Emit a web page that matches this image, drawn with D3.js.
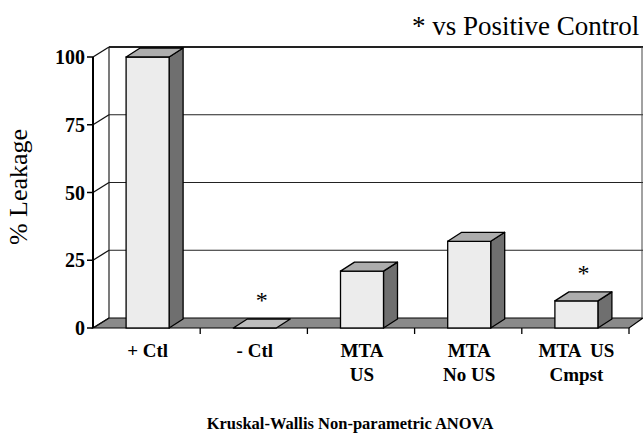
<!DOCTYPE html>
<html><head><meta charset="utf-8">
<script src="https://cdn.jsdelivr.net/npm/d3@7/dist/d3.min.js"></script>
<style>
html,body{margin:0;padding:0;background:#fff;}
svg{display:block;}
text{font-family:"Liberation Serif","Times New Roman",serif;fill:#000;}
</style></head>
<body>
<svg id="chart" width="643" height="435"></svg>
<script>
const categories = ["+ Ctl", "- Ctl", "MTA|US", "MTA|No US", "MTA  US|Cmpst"];
const values = [100, 0, 21, 32, 10];
const significant = [false, true, false, false, true];
const yTicks = [0, 25, 50, 75, 100];

const svg = d3.select("#chart");
const x = d3.scaleBand().domain(categories).range([93, 629]).padding(0);
const y = d3.scaleLinear().domain([0, 100]).range([328, 57]);

const wdx = 16, wdy = -10;   // wall depth offset
const bdx = 14, bdy = -9;    // bar depth offset
const barW = 43;

// floor
const fy0 = y(0);
svg.append("polygon")
  .attr("points", [[x.range()[0], fy0], [x.range()[0] + wdx, fy0 + wdy], [643, fy0 + wdy], [x.range()[1], fy0]].map(p => p.join(",")).join(" "))
  .attr("fill", "#8a8a8a").attr("stroke", "#000").attr("stroke-width", 1.2);

// back wall gridlines
const backX0 = x.range()[0] + wdx;
svg.append("g").selectAll("line").data(yTicks.filter(d => d > 0)).join("line")
  .attr("x1", backX0).attr("x2", 643)
  .attr("y1", d => y(d) + wdy).attr("y2", d => y(d) + wdy)
  .attr("stroke", "#222").attr("stroke-width", d => d === 100 ? 1.8 : 1.2);
svg.append("line").attr("x1", backX0).attr("x2", backX0)
  .attr("y1", y(100) + wdy).attr("y2", y(0) + wdy).attr("stroke", "#222").attr("stroke-width", 1.2);
svg.append("line").attr("x1", 642).attr("x2", 642)
  .attr("y1", y(100) + wdy).attr("y2", y(0) + wdy).attr("stroke", "#444").attr("stroke-width", 1);
svg.append("g").selectAll("line").data(yTicks).join("line")
  .attr("x1", x.range()[0]).attr("x2", backX0)
  .attr("y1", d => y(d)).attr("y2", d => y(d) + wdy)
  .attr("stroke", "#111").attr("stroke-width", 1.3);

// bars
const bars = svg.append("g");
categories.forEach((c, i) => {
  const v = values[i];
  const x0 = x(c) + x.bandwidth() / 2 - barW / 2 + 1;
  const yt = y(v), yb = y(0);
  const pts = a => a.map(p => p.join(",")).join(" ");
  if (v > 0) {
    bars.append("polygon").attr("points", pts([[x0 + barW, yt], [x0 + barW + bdx, yt + bdy], [x0 + barW + bdx, yb + bdy], [x0 + barW, yb]]))
      .attr("fill", "#6f6f6f").attr("stroke", "#000").attr("stroke-width", 1.3).attr("stroke-linejoin", "round");
    bars.append("rect").attr("x", x0).attr("y", yt).attr("width", barW).attr("height", yb - yt)
      .attr("fill", "#ececec").attr("stroke", "#000").attr("stroke-width", 1.3);
  }
  bars.append("polygon").attr("points", pts([[x0, yt], [x0 + bdx, yt + bdy], [x0 + barW + bdx, yt + bdy], [x0 + barW, yt]]))
    .attr("fill", v > 0 ? "#adadad" : "#bdbdbd").attr("stroke", "#000").attr("stroke-width", 1.3).attr("stroke-linejoin", "round");
  if (significant[i]) {
    svg.append("text").attr("x", x0 + barW / 2 + 7).attr("y", yt - 20)
      .attr("text-anchor", "middle").attr("font-size", 24).text("*");
  }
});

// front y axis
svg.append("line").attr("x1", 93).attr("x2", 93).attr("y1", y(100)).attr("y2", y(0))
  .attr("stroke", "#000").attr("stroke-width", 2);
const yg = svg.append("g").selectAll("g").data(yTicks).join("g");
yg.append("line").attr("x1", 87).attr("x2", 93).attr("y1", d => y(d)).attr("y2", d => y(d))
  .attr("stroke", "#000").attr("stroke-width", 1.5);
yg.append("text").attr("x", 85).attr("y", d => y(d) + 7).attr("text-anchor", "end")
  .attr("font-size", 20).attr("font-weight", "bold").text(d => d);

// x ticks
const xb = categories.map(c => x(c) + x.bandwidth());
svg.append("g").selectAll("line").data(xb).join("line")
  .attr("x1", d => d).attr("x2", d => d).attr("y1", y(0)).attr("y2", y(0) + 6)
  .attr("stroke", "#000").attr("stroke-width", 1.3);

// x labels
categories.forEach(c => {
  const lines = c.split("|");
  const t = svg.append("text").attr("text-anchor", "middle").attr("font-size", 19).attr("font-weight", "bold")
    .attr("xml:space", "preserve");
  lines.forEach((l, j) => {
    t.append("tspan").attr("x", x(c) + x.bandwidth() / 2 + 1).attr("y", 357 + j * 24).text(l);
  });
});

// titles
svg.append("text").attr("transform", "translate(27,187) rotate(-90)").attr("text-anchor", "middle")
  .attr("font-size", 26).text("% Leakage");
svg.append("text").attr("x", 412).attr("y", 35).attr("font-size", 27).text("* vs Positive Control");
svg.append("text").attr("x", 350).attr("y", 429).attr("text-anchor", "middle").attr("font-size", 16.5)
  .attr("font-weight", "bold").text("Kruskal-Wallis Non-parametric ANOVA");
</script>
</body></html>
